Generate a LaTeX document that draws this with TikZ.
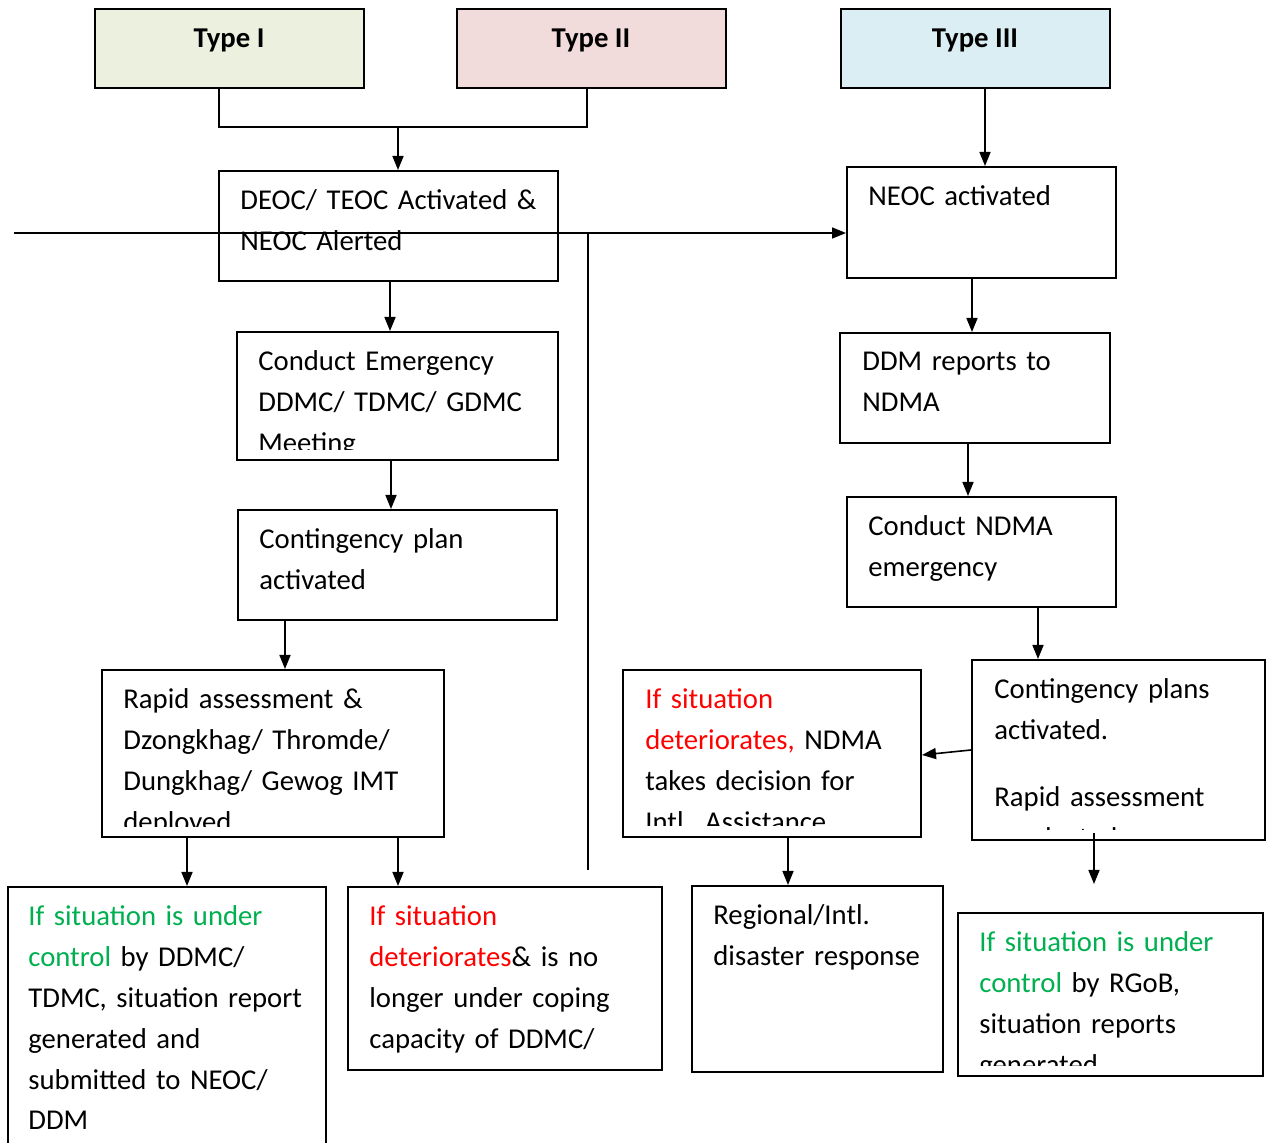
\documentclass[tikz,border=0pt]{standalone}
\usepackage{fontspec}
\setmainfont{Carlito}
\usetikzlibrary{arrows.meta,fit}
\definecolor{typeone}{HTML}{EBF1DE}
\definecolor{typetwo}{HTML}{F2DCDB}
\definecolor{typethree}{HTML}{DBEEF3}
\definecolor{okgreen}{HTML}{00B050}
\definecolor{badred}{HTML}{FF0000}
\tikzset{
  flowbox/.style={draw, line width=1pt, inner sep=0pt},
  flowtext/.style={anchor=base west, inner sep=0pt, text width=165pt, align=left,
    font=\fontsize{14.35}{20.4}\selectfont},
  typetext/.style={anchor=base, inner sep=0pt, font=\fontsize{14.35}{20.4}\selectfont\bfseries},
  arr/.style={line width=0.8pt, -{Triangle[length=7pt,width=5.5pt]}},
  plainline/.style={line width=0.8pt}
}
\begin{document}
\begin{tikzpicture}[x=0.5pt,y=-0.5pt]
\useasboundingbox (0,0) rectangle (1266,1143);
% type boxes
\node[flowbox, fill=typeone, fit={(95,9) (364,88)}] (typeone) {};
\node[flowbox, fill=typetwo, fit={(457,9) (726,88)}] (typetwo) {};
\node[flowbox, fill=typethree, fit={(841,9) (1110,88)}] (typethree) {};
\node[typetext] (typeonelabel) at (229,48) {Type I};
\node[typetext] (typetwolabel) at (591,48) {Type II};
\node[typetext] (typethreelabel) at (975,48) {Type III};
% left column
\node[flowbox, fit={(219,171) (558,281)}] (deoc) {};
\node[flowbox, fit={(237,332) (558,460)}] (emerg) {};
\node[flowbox, fit={(238,510) (557,620)}] (contplan) {};
\node[flowbox, fit={(102,670) (444,837)}] (rapid) {};
\node[flowbox, fit={(8,887) (326,1160)}] (undercontrol) {};
\node[flowbox, fit={(348,887) (662,1070)}] (deteriorates) {};
% right column
\node[flowbox, fit={(847,167) (1116,278)}] (neoc) {};
\node[flowbox, fit={(840,333) (1110,443)}] (ddm) {};
\node[flowbox, fit={(847,497) (1116,607)}] (ndma) {};
\node[flowbox, fit={(972,660) (1265,840)}] (contplans) {};
\node[flowbox, fit={(623,670) (921,837)}] (intl) {};
\node[flowbox, fit={(692,886) (943,1072)}] (regional) {};
\node[flowbox, fit={(958,913) (1263,1076)}] (rgob) {};
% texts
\node[flowtext] (deoctxt) at (240,210) {DEOC/ TEOC Activated \&\\NEOC Alerted};
\node[flowtext] (contplantxt) at (259,549) {Contingency plan\\activated};
\node[flowtext] (undercontroltxt) at (28,926) {\textcolor{okgreen}{If situation is under}\\
  \textcolor{okgreen}{control} by DDMC/\\TDMC, situation report\\generated and\\submitted to NEOC/\\DDM};
\node[flowtext] (deterioratestxt) at (369,926) {\textcolor{badred}{If situation}\\
  \textcolor{badred}{deteriorates}\& is no\\longer under coping\\capacity of DDMC/};
\node[flowtext] (neoctxt) at (868,206) {NEOC activated};
\node[flowtext] (ddmtxt) at (862,371) {DDM reports to\\NDMA};
\node[flowtext] (ndmatxt) at (868,536) {Conduct NDMA\\emergency};
\node[flowtext] (regionaltxt) at (713,925) {Regional/Intl.\\disaster response};
\begin{scope}
\clip (237,332) rectangle (558,450);
\node[flowtext] (emergtxt) at (258,371) {Conduct Emergency\\DDMC/ TDMC/ GDMC\\Meeting};
\end{scope}
\begin{scope}
\clip (102,670) rectangle (444,827);
\node[flowtext] (rapidtxt) at (123,709) {Rapid assessment \&\\Dzongkhag/ Thromde/\\Dungkhag/ Gewog IMT\\deployed};
\end{scope}
\begin{scope}
\clip (623,670) rectangle (921,826);
\node[flowtext] (intltxt) at (645,709) {\textcolor{badred}{If situation}\\
  \textcolor{badred}{deteriorates,} NDMA\\takes decision for\\Intl. Assistance};
\end{scope}
\begin{scope}
\clip (972,660) rectangle (1265,830);
\node[flowtext] (contplanstxt) at (994,699) {Contingency plans\\activated.\\[13pt]Rapid assessment\\conducted};
\end{scope}
\begin{scope}
\clip (958,913) rectangle (1263,1066);
\node[flowtext] (rgobtxt) at (979,952) {\textcolor{okgreen}{If situation is under}\\
  \textcolor{okgreen}{control} by RGoB,\\situation reports\\generated};
\end{scope}
% connectors
\coordinate (join) at (398,127);
\coordinate (leftend) at (14,233);
\coordinate (vbottom) at (588,870);
\coordinate (rgobtip) at (1094,884);
\draw[plainline] (typeone.south -| 219,0) |- (join) -| (typetwo.south -| 587,0);
\draw[arr] (join) -- (deoc.north -| join);
\draw[arr] (typethree.south -| 985,0) -- (neoc.north -| 985,0);
\draw[arr] (leftend) -- (neoc.west |- leftend);
\draw[plainline] (leftend -| vbottom) -- (vbottom);
\draw[arr] (deoc.south -| 390,0) -- (emerg.north -| 390,0);
\draw[arr] (emerg.south -| 391,0) -- (contplan.north -| 391,0);
\draw[arr] (contplan.south -| 285,0) -- (rapid.north -| 285,0);
\draw[arr] (rapid.south -| 187,0) -- (undercontrol.north -| 187,0);
\draw[arr] (rapid.south -| 398,0) -- (deteriorates.north -| 398,0);
\draw[arr] (neoc.south -| 972,0) -- (ddm.north -| 972,0);
\draw[arr] (ddm.south -| 968,0) -- (ndma.north -| 968,0);
\draw[arr] (ndma.south -| 1038,0) -- (contplans.north -| 1038,0);
\draw[arr] (contplans.west |- 0,750) -- (intl.east |- 0,755);
\draw[arr] (intl.south -| 788,0) -- (regional.north -| 788,0);
\draw[arr] ([yshift=4pt]contplans.south -| rgobtip) -- (rgobtip);
\end{tikzpicture}
\end{document}
